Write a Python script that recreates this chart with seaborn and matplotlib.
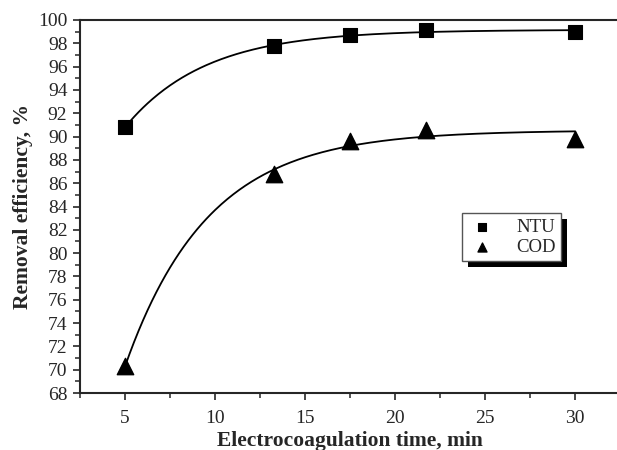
import numpy as np
import pandas as pd
import matplotlib
matplotlib.use("Agg")
import matplotlib.pyplot as plt
import seaborn as sns
from matplotlib.ticker import MultipleLocator
from matplotlib.patches import Rectangle

time_min = [5, 13.3, 17.5, 21.7, 30]
ntu = [90.8, 97.8, 98.7, 99.1, 99.0]
cod = [70.3, 86.8, 89.6, 90.6, 89.8]

sns.set_style("ticks")
plt.rcParams['font.family'] = ['Liberation Serif', 'DejaVu Serif']

def fit_exp(x, y):
    x = np.asarray(x, float); y = np.asarray(y, float)
    best = None
    for k in np.linspace(0.01, 1.0, 2000):
        X = np.column_stack([np.ones_like(x), np.exp(-k * (x - x[0]))])
        coef, res, *_ = np.linalg.lstsq(X, y, rcond=None)
        err = np.sum((X @ coef - y) ** 2)
        if best is None or err < best[0]:
            best = (err, k, coef)
    _, k, coef = best
    xs = np.linspace(x[0], x[-1], 300)
    return xs, coef[0] + coef[1] * np.exp(-k * (xs - x[0]))

fig = plt.figure(figsize=(6.17, 4.5), dpi=100)
ax = fig.add_axes([80/617, 1-393/450, 540/617, 373/450])

for vals in (ntu, cod):
    xs, ys = fit_exp(time_min, vals)
    sns.lineplot(x=xs, y=ys, ax=ax, color='black', lw=1.3, estimator=None, sort=False)

sns.scatterplot(x=time_min, y=ntu, ax=ax, marker='s', s=95, color='black',
                edgecolor='black', label='NTU', zorder=5)
sns.scatterplot(x=time_min, y=cod, ax=ax, marker='^', s=140, color='black',
                edgecolor='black', label='COD', zorder=5)

ax.set_xlim(2.5, 32.5)
ax.set_ylim(68, 100)
ax.xaxis.set_major_locator(MultipleLocator(5))
ax.xaxis.set_minor_locator(MultipleLocator(2.5))
ax.yaxis.set_major_locator(MultipleLocator(2))
ax.yaxis.set_minor_locator(MultipleLocator(1))
ax.tick_params(which='major', direction='out', length=5, width=1.2, labelsize=14, pad=4)
ax.tick_params(axis='x', which='major', pad=7)
ax.tick_params(which='minor', direction='out', length=3.5, width=1.1)
for s in ax.spines.values():
    s.set_linewidth(1.5)
ax.set_xlabel('Electrocoagulation time, min', fontsize=15.5, fontweight='bold', labelpad=3)
ax.set_ylabel('Removal efficiency, %', fontsize=15.5, fontweight='bold', labelpad=4)

leg = ax.legend(loc='upper left', bbox_to_anchor=(0.707, 0.483), frameon=True,
                fancybox=False, fontsize=13.5, handletextpad=1.0, borderpad=0.3,
                labelspacing=0.15, markerscale=0.55, handlelength=1.6, borderaxespad=0)
frame = leg.get_frame()
frame.set_edgecolor('#555555')
frame.set_facecolor('white')
frame.set_alpha(1)
frame.set_linewidth(1.0)
leg.set_zorder(10)

fig.canvas.draw()
bb = leg.get_window_extent()
sh = Rectangle((bb.x0 + 6, bb.y0 - 6), bb.width, bb.height, transform=None,
               facecolor='black', edgecolor='none', zorder=9)
ax.add_artist(sh)

fig.savefig('out.png', dpi=100)
